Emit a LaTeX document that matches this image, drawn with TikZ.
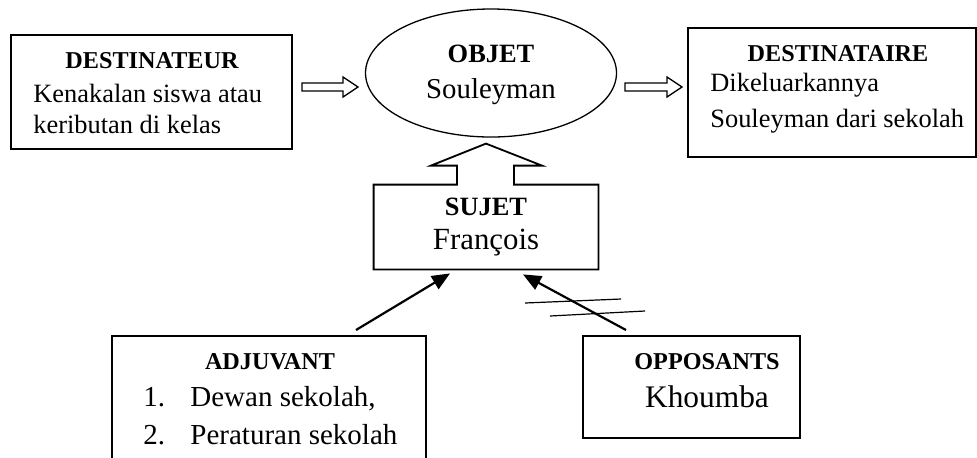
\documentclass[tikz,border=0pt]{standalone}
\usepackage{fontspec}
\setmainfont{Liberation Serif}
\usetikzlibrary{shapes.geometric,arrows.meta,calc}
\newcommand\fs[1]{\fontsize{#1}{#1}\selectfont}
\begin{document}
\begin{tikzpicture}[x=0.5pt,y=-0.5pt,
  boxline/.style={draw,line width=1pt,rectangle,inner sep=0pt},
  ttl/.style={font=\fs{12.1}\bfseries,inner sep=0pt,anchor=base},
  ttlb/.style={font=\fs{13.2}\bfseries,inner sep=0pt,anchor=base},
  txt/.style={font=\fs{13.2},inner sep=0pt,anchor=base west},
  blockarr/.style={draw,line width=0.65pt,line join=miter},
  diagarr/.style={line width=1.1pt,-{Triangle[length=9pt,width=7.5pt]}},
  crossln/.style={line width=0.6pt}]
\useasboundingbox (0,0) rectangle (977,457);
% boxes
\node[boxline,minimum width=140.5pt,minimum height=57pt] (dtr) at (151.5,92) {};
\node[boxline,minimum width=144pt,minimum height=64.5pt] (dta) at (832,92.5) {};
\node[draw,ellipse,line width=0.65pt,inner sep=0pt,minimum width=125.5pt,minimum height=64pt] (obj) at (491,73) {};
\node[inner sep=0pt,minimum width=112pt,minimum height=42pt] (suj) at (486,227) {};
\node[inner sep=0pt,minimum width=157pt,minimum height=64pt] (adj) at (269,400) {};
\node[boxline,minimum width=108.5pt,minimum height=51pt] (opp) at (691.5,387) {};
% adjuvant box (cut at bottom)
\draw[line width=1pt] (adj.south west) -- (adj.north west) -- (adj.north east) -- (adj.south east);
% sujet box with upward block arrow
\draw[blockarr,line width=0.9pt] (suj.north west) -- ($(suj.north)+(-29,0)$) -- ($(suj.north)+(-29,-19)$) -- ($(suj.north)+(-55,-19)$) -- ($(suj.north)+(0,-41)$) -- ($(suj.north)+(56,-19)$) -- ($(suj.north)+(28,-19)$) -- ($(suj.north)+(28,0)$) -- (suj.north east) -- (suj.south east) -- (suj.south west) -- cycle;
% horizontal block arrows
\coordinate (a1) at (302,87);
\coordinate (a2) at (625,87);
\draw[blockarr] (a1) ++(0,-4) -- ++(41,0) -- ++(0,-6) -- ++(15,10) -- ++(-15,10) -- ++(0,-6) -- ++(-41,0) -- cycle;
\draw[blockarr] (a2) ++(0,-4) -- ++(42,0) -- ++(0,-6) -- ++(15,10) -- ++(-15,10) -- ++(0,-6) -- ++(-42,0) -- cycle;
% texts
\node[ttl] (t1) at (152,68) {DESTINATEUR};
\node[txt] (t2) at (33,102) {Kenakalan siswa atau};
\node[txt] (t3) at (33,133) {keributan di kelas};
\node[ttlb] (t4) at (491,62) {OBJET};
\node[font=\fs{14.4},inner sep=0pt,anchor=base] (t5) at (491,98) {Souleyman};
\node[ttl] (t6) at (838,61) {DESTINATAIRE};
\node[txt] (t7) at (710,91) {Dikeluarkannya};
\node[txt] (t8) at (710,127) {Souleyman dari sekolah};
\node[ttlb] (t9) at (486,215) {SUJET};
\node[font=\fs{15.4},inner sep=0pt,anchor=base] (t10) at (486,249) {François};
\node[ttl] (t11) at (270,369) {ADJUVANT};
\node[font=\fs{14.5},inner sep=0pt,anchor=base west] (t12) at (143,406) {1.};
\node[font=\fs{14.5},inner sep=0pt,anchor=base west] (t13) at (190,406) {Dewan sekolah,};
\node[font=\fs{14.5},inner sep=0pt,anchor=base west] (t14) at (143,444) {2.};
\node[font=\fs{14.5},inner sep=0pt,anchor=base west] (t15) at (190,444) {Peraturan sekolah};
\node[ttl] (t16) at (707,369) {OPPOSANTS};
\node[font=\fs{15.7},inner sep=0pt,anchor=base] (t17) at (707,407) {Khoumba};
% diagonal arrows
\coordinate (adjt) at (356,330);
\coordinate (oppt) at (626,330);
\draw[diagarr] (adjt) -- ($(suj.south)+(-36,4)$);
\draw[diagarr] (oppt) -- ($(suj.south)+(37,5)$);
% crossing lines
\coordinate (c1a) at (525,303);
\coordinate (c1b) at (621,299);
\coordinate (c2a) at (550,316);
\coordinate (c2b) at (645,311);
\draw[crossln] (c1a) -- (c1b);
\draw[crossln] (c2a) -- (c2b);
\end{tikzpicture}
\end{document}
